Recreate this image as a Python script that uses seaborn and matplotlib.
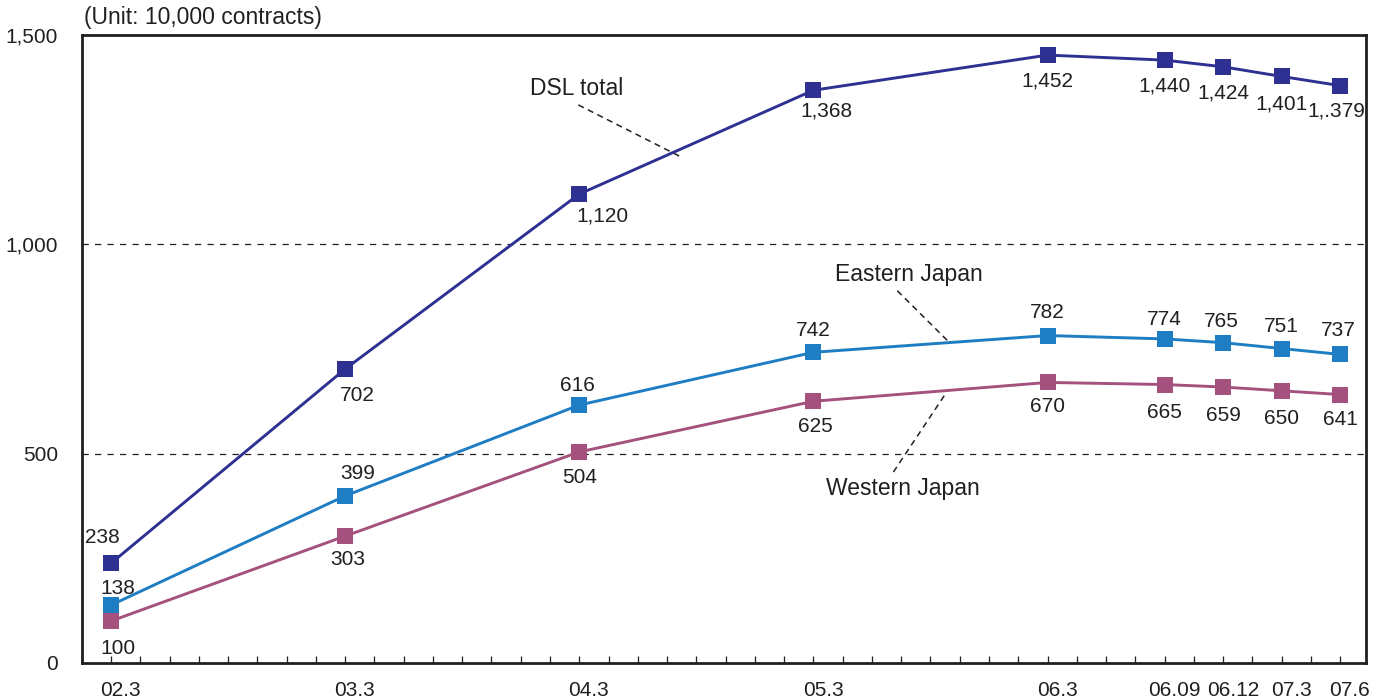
import matplotlib
matplotlib.use("Agg")
import matplotlib.pyplot as plt
from matplotlib.transforms import ScaledTranslation
import numpy as np
import pandas as pd
import seaborn as sns

# Survey points, counted in months from March 2002
months = [0, 12, 24, 36, 48, 54, 57, 60, 63]
period_labels = ["02.3", "03.3", "04.3", "05.3", "06.3", "06.09", "06.12", "07.3", "07.6"]

dsl_total = [238, 702, 1120, 1368, 1452, 1440, 1424, 1401, 1379]
eastern_japan = [138, 399, 616, 742, 782, 774, 765, 751, 737]
western_japan = [100, 303, 504, 625, 670, 665, 659, 650, 641]

series_names = ["DSL total", "Eastern Japan", "Western Japan"]
series_values = [dsl_total, eastern_japan, western_japan]
colors = {"DSL total": "#2E3192", "Eastern Japan": "#1F7DC3", "Western Japan": "#A4527D"}

# printed label text differs from the plain number for one point
label_overrides = {("DSL total", 8): "1,.379"}

# label offsets in pixels (dx, dy) relative to each marker
offsets = {
    "DSL total": [(-9, 26), (12, -26), (23, -22), (13, -21), (0, -26), (0, -26), (0, -26), (0, -28), (-4, -25)],
    "Eastern Japan": [(7, 17), (13, 22), (-2, 20), (0, 22), (0, 23), (0, 19), (-2, 21), (0, 22), (-2, 24)],
    "Western Japan": [(7, -27), (3, -23), (0, -26), (2, -25), (0, -24), (0, -28), (0, -28), (0, -28), (0, -25)],
}

rows = []
for name, vals in zip(series_names, series_values):
    for m, v in zip(months, vals):
        rows.append({"month": m, "value": v, "series": name})
df = pd.DataFrame(rows)

sns.set_theme(style="white")
plt.rcParams["font.family"] = ["Liberation Sans", "DejaVu Sans"]
ink = "#231F20"

fig = plt.figure(figsize=(13.85, 7.0), dpi=100)
ax = fig.add_axes([0.059, 0.053, 0.927, 0.897])

sns.lineplot(data=df, x="month", y="value", hue="series", hue_order=series_names,
             palette=colors, marker="s", markersize=11, markeredgewidth=0,
             linewidth=2.1, legend=False, ax=ax)

for name, vals in zip(series_names, series_values):
    for i, (m, v) in enumerate(zip(months, vals)):
        txt = label_overrides.get((name, i), f"{v:,}")
        dx, dy = offsets[name][i]
        ax.annotate(txt, (m, v), xytext=(dx, dy), textcoords="offset pixels",
                    ha="center", va="center", fontsize=15, color=ink)

# reference lines
for yv in (500, 1000):
    ax.axhline(yv, color=ink, linewidth=0.9, linestyle=(0, (5, 5)), zorder=0)

# series callouts with dashed leaders
callouts = [
    ("DSL total", (23.85, 1373), (23.95, 1333), (29.2, 1209)),
    ("Eastern Japan", (40.9, 927), (40.3, 889), (43.0, 764)),
    ("Western Japan", (40.6, 416), (40.1, 456), (42.8, 645)),
]
for text, tpos, p0, p1 in callouts:
    ax.text(tpos[0], tpos[1], text, ha="center", va="center", fontsize=16.5, color=ink)
    ax.plot([p0[0], p1[0]], [p0[1], p1[1]], color=ink, linewidth=1.1,
            linestyle=(0, (4, 3)), zorder=1)

ax.set_xlim(-1.5, 64.3)
ax.set_ylim(0, 1500)
ax.set_xticks(months)
ax.set_xticklabels(period_labels)
ax.set_xticks(np.arange(-1.5, 64.3, 1.5), minor=True)
ax.set_yticks([0, 500, 1000, 1500])
ax.set_yticklabels(["0", "500", "1,000", "1,500"])
ax.tick_params(axis="x", which="both", direction="in", length=5, width=0.9,
               color=ink, bottom=True, labelsize=15, labelcolor=ink, pad=13)
ax.tick_params(axis="y", length=0, labelsize=15, labelcolor=ink, pad=17)
for lab in ax.get_xticklabels():
    lab.set_transform(lab.get_transform() + ScaledTranslation(7 / 72, 0, fig.dpi_scale_trans))

ax.set_xlabel("")
ax.set_ylabel("")
for sp in ax.spines.values():
    sp.set_visible(True)
    sp.set_color(ink)
    sp.set_linewidth(2.0)
ax.grid(False)

ax.text(0.002, 1.01, "(Unit: 10,000 contracts)", transform=ax.transAxes,
        ha="left", va="bottom", fontsize=16.5, color=ink)

fig.savefig("out.png", dpi=100, facecolor="white")
